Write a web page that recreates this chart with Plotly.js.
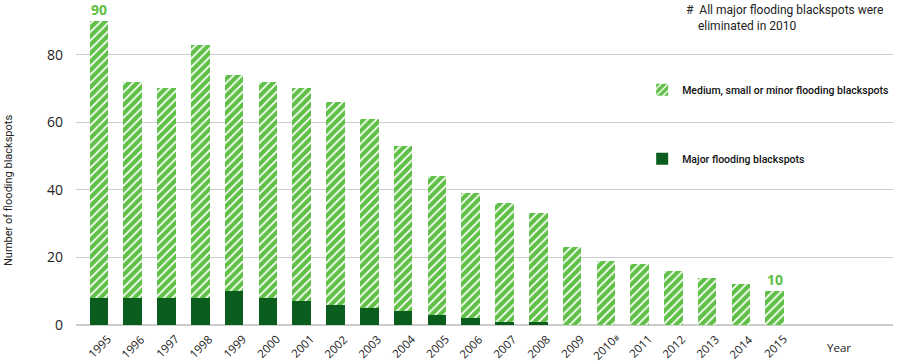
<!DOCTYPE html>
<html>
<head>
<meta charset="utf-8">
<script src="https://cdn.plot.ly/plotly-3.0.1.min.js"></script>
<style>html,body{margin:0;padding:0;background:#fff;}#chart{width:900px;height:361px;}</style>
</head>
<body>
<div id="chart"></div>
<script>
const years = ['1995','1996','1997','1998','1999','2000','2001','2002','2003','2004','2005','2006','2007','2008','2009','2010#','2011','2012','2013','2014','2015'];
const totals = [90,72,70,83,74,72,70,66,61,53,44,39,36,33,23,19,18,16,14,12,10];
const major = [8,8,8,8,10,8,7,6,5,4,3,2,1,1,0,0,0,0,0,0,0];
const minor = totals.map((t,i)=>t-major[i]);
const labelled = [{x:'1995', v:90}, {x:'2015', v:10}];

const LIGHT = '#5fbf46';
const DARK = '#0b5d1e';
const FONT = 'Roboto,"Open Sans",sans-serif';

const traces = [
  {type:'bar', x:years, y:major, name:'Major flooding blackspots', legendgroup:'a', legendrank:2,
   marker:{color:DARK, line:{width:0}}, width:0.55, hoverinfo:'skip'},
  {type:'bar', x:years, y:minor, name:'Medium, small or minor flooding blackspots', legendgroup:'b', legendrank:1,
   marker:{color:LIGHT, line:{width:0}, pattern:{shape:'/', bgcolor:LIGHT, fgcolor:'#ffffff', size:6, solidity:0.3, fillmode:'replace'}},
   width:0.55, hoverinfo:'skip'}
];

const annotations = labelled.map(d=>({x:years.indexOf(d.x), y:d.v, xref:'x', yref:'y', text:'<b>'+d.v+'</b>', showarrow:false,
  yanchor:'bottom', yshift:0, font:{family:'"Open Sans",sans-serif', size:14, color:LIGHT}}));
// rotated tick labels, centred under each bar
years.forEach((yr,i)=>{
  const t = yr.endsWith('#') ? yr.slice(0,-1)+'<span style="font-size:8px">#</span>' : yr;
  annotations.push({x:i, xref:'x', yref:'paper', y:0, yanchor:'middle', xanchor:'center', yshift:-21, textangle:-45,
    text:t, showarrow:false, font:{family:'"Open Sans",sans-serif', size:11.5, color:'#222'}});
});
annotations.push({xref:'paper', yref:'paper', x:0, xshift:-76, y:0.5, yshift:-26, text:'Number of flooding blackspots',
  textangle:-90, showarrow:false, font:{family:FONT, size:11, color:'#222'}});
annotations.push({xref:'x', yref:'paper', x:21.9, y:0, yshift:-32, text:'Year', showarrow:false,
  font:{family:'"Open Sans",sans-serif', size:11.5, color:'#222'}});
annotations.push({xref:'paper', yref:'paper', x:1, xshift:-8, y:1.01, yanchor:'top', xanchor:'right', align:'left',
  text:'#\u00a0\u00a0All major flooding blackspots were<br>\u00a0\u00a0\u00a0\u00a0eliminated in 2010', showarrow:false,
  font:{family:'Roboto,sans-serif', size:12, color:'#222'}});

const layout = {
  width:900, height:361,
  margin:{l:76, r:7, t:4, b:36, autoexpand:false},
  barmode:'stack',
  paper_bgcolor:'#fff', plot_bgcolor:'#fff',
  showlegend:true,
  legend:{x:0.693, y:0.778, xanchor:'left', yanchor:'top', traceorder:'grouped', tracegroupgap:50,
    font:{family:FONT, size:10.5, weight:500, color:'#111'}, bgcolor:'rgba(0,0,0,0)', itemwidth:30},
  xaxis:{type:'category', range:[-0.68, 23.5], showticklabels:false, showgrid:false, showline:false, zeroline:false, ticks:''},
  yaxis:{range:[0,95], tickvals:[0,20,40,60,80], showgrid:true, gridcolor:'#cccccc', gridwidth:1,
    zeroline:true, zerolinecolor:'#cccccc', zerolinewidth:1.5, showline:false, ticks:'',
    ticklabelstandoff:12, tickfont:{family:'"Open Sans",sans-serif', size:14, color:'#222'}},
  annotations:annotations
};

Plotly.newPlot('chart', traces, layout, {displayModeBar:false, staticPlot:true});
</script>
</body>
</html>
